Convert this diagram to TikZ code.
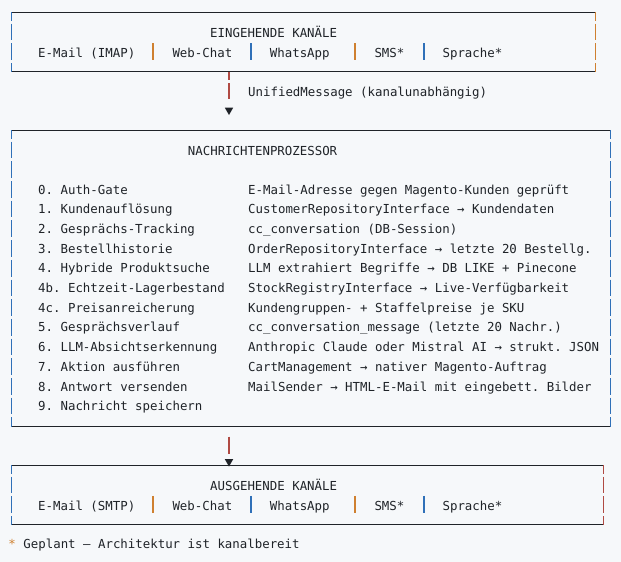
\documentclass[tikz,border=0pt]{standalone}
\usepackage{fontspec}
\setmonofont{DejaVu Sans Mono}
\usetikzlibrary{positioning}

\definecolor{codebg}{HTML}{F6F8FA}
\definecolor{ink}{HTML}{1F2328}
\definecolor{barblue}{HTML}{2F70B8}
\definecolor{barorange}{HTML}{CF8030}
\definecolor{barred}{HTML}{B04A43}

\begin{document}
\begin{tikzpicture}[
  x=1pt, y=-1pt,
  font=\ttfamily\fontsize{12.4}{14.9}\selectfont,
  txt/.style={anchor=base west, inner sep=0pt, text=ink},
  frame/.style={inner sep=0pt},
  hrule/.style={ink, line width=1pt},
  vrule/.style={line width=1.2pt, dash pattern=on 16.7pt off 3pt,
                dash phase=8.4pt},
  sepbar/.style={line width=1.1pt},
  shaft/.style={barred, line width=1.1pt},
]
\useasboundingbox (0,0) rectangle (621,562);
\fill[codebg] (0,0) rectangle (621,562);

% ---------------- frames -------------------------------------------------
\node[frame, minimum width=583pt, minimum height=59pt] (inbox) at (303.5, 42) {};
\node[frame, minimum width=598pt, minimum height=296pt] (proc) at (311, 278.5) {};
\node[frame, minimum width=591pt, minimum height=59pt] (outbox) at (307.5, 495) {};

\foreach \b/\cl/\cr in {inbox/barblue/barorange, proc/barblue/barblue,
                        outbox/barblue/barred} {
  \draw[hrule] (\b.north west) -- (\b.north east);
  \draw[hrule] (\b.south west) -- (\b.south east);
  \draw[vrule, \cl] (\b.north west) -- (\b.south west);
  \draw[vrule, \cr] (\b.north east) -- (\b.south east);
}

% ---------------- incoming channels --------------------------------------
\node[txt] (intitle) at (210, 37.5) {EINGEHENDE KANÄLE};
\foreach \x/\t [count=\k] in {38/E-Mail (IMAP), 172.3/Web-Chat,
                              269.7/WhatsApp, 374.3/SMS*, 442.4/Sprache*} {
  \node[txt] (in\k) at (\x, 57.1) {\t};
}

% ---------------- outgoing channels --------------------------------------
\node[txt] (outtitle) at (210, 490.1) {AUSGEHENDE KANÄLE};
\foreach \x/\t [count=\k] in {38/E-Mail (SMTP), 172.3/Web-Chat,
                              269.7/WhatsApp, 374.3/SMS*, 442.4/Sprache*} {
  \node[txt] (out\k) at (\x, 510) {\t};
}

% ---------------- channel separators -------------------------------------
\foreach \y in {52.6, 505.5} {
  \foreach \x/\c in {153/barorange, 251/barblue, 355/barorange,
                     424/barblue} {
    \draw[sepbar, \c] (\x, \y-9.6) -- (\x, \y+7.4);
  }
}

% ---------------- processor steps ----------------------------------------
\node[txt] (proctitle) at (187.7, 155.2) {NACHRICHTENPROZESSOR};
\foreach \l/\r [count=\i from 0, evaluate=\i as \y using 194+19.7*\i] in {
    0. Auth-Gate/E-Mail-Adresse gegen Magento-Kunden geprüft,
    1. Kundenauflösung/CustomerRepositoryInterface → Kundendaten,
    2. Gesprächs-Tracking/cc\_conversation (DB-Session),
    3. Bestellhistorie/OrderRepositoryInterface → letzte 20 Bestellg.,
    4. Hybride Produktsuche/LLM extrahiert Begriffe → DB LIKE + Pinecone,
    4b. Echtzeit-Lagerbestand/StockRegistryInterface → Live-Verfügbarkeit,
    4c. Preisanreicherung/Kundengruppen- + Staffelpreise je SKU,
    5. Gesprächsverlauf/cc\_conversation\_message (letzte 20 Nachr.),
    6. LLM-Absichtserkennung/Anthropic Claude oder Mistral AI → strukt. JSON,
    7. Aktion ausführen/CartManagement → nativer Magento-Auftrag,
    8. Antwort versenden/MailSender → HTML-E-Mail mit eingebett. Bilder,
    9. Nachricht speichern/{}} {
  \node[txt] (stage\i) at (38, \y) {\l};
  \node[txt] (detail\i) at (248, \y) {\r};
}

% ---------------- flow arrows --------------------------------------------
\coordinate (tip1) at (229, 115);
\coordinate (tip2) at (229, 466.5);

\draw[shaft, dash pattern=on 16.7pt off 3pt, dash phase=8.4pt,
      shorten >=15.7pt] (inbox.south -| tip1) -- (tip1);
\fill[ink] (tip1) -- ++(-4.2, -7.3) -- ++(8.4, 0) -- cycle;
\node[txt] (msglabel) at (248, 96.2) {UnifiedMessage (kanalunabhängig)};

\draw[shaft, shorten <=10pt, shorten >=13pt] (proc.south -| tip2) -- (tip2);
\fill[ink] (tip2) -- ++(-4.2, -7.3) -- ++(8.4, 0) -- cycle;

% ---------------- footnote -----------------------------------------------
\node[txt] (note) at (8.3, 548.5)
  {\textcolor{barorange}{*} Geplant — Architektur ist kanalbereit};

\end{tikzpicture}
\end{document}
